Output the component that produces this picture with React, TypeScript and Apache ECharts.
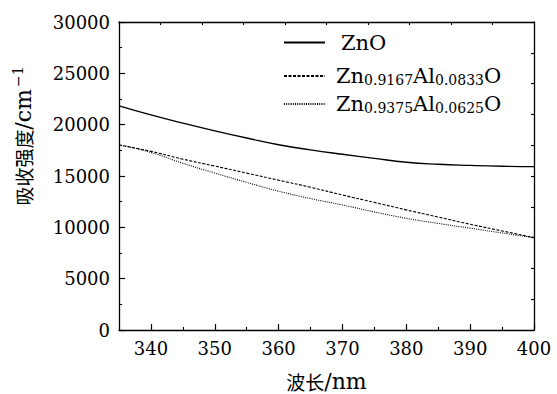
import React, { useEffect, useRef } from "react";
import * as echarts from "echarts";

const wavelength = [335, 340, 345, 350, 355, 360, 365, 370, 375, 380, 385, 390, 395, 400];
const znO = [21830, 20950, 20150, 19400, 18700, 18050, 17550, 17120, 16720, 16340, 16140, 16030, 15950, 15910];
const znAl0833 = [18030, 17400, 16640, 15970, 15280, 14590, 13900, 13150, 12430, 11700, 11000, 10300, 9650, 9000];
const znAl0625 = [18030, 17290, 16240, 15290, 14380, 13520, 12800, 12180, 11500, 10880, 10380, 9920, 9450, 8990];

const seriesNames = ["ZnO", "Zn0.9167Al0.0833O", "Zn0.9375Al0.0625O"];
const xTickLabels = [340, 350, 360, 370, 380, 390, 400];
const xMinorTicks = [345, 355, 365, 375, 385, 395];
const xTopTicks = [341.5, 348, 354.5, 361, 367.5, 374, 380.5, 387, 393.5];

const FONT = "'DejaVu Serif', serif";
const CJK = "'Noto Sans CJK SC', sans-serif";
const FS = 18;

const legendRich = {
  n: { fontFamily: FONT, fontSize: 21, color: "#000", lineHeight: 22, verticalAlign: "middle" as const },
  q: { fontFamily: FONT, fontSize: 21, color: "#000", lineHeight: 22, verticalAlign: "middle" as const, padding: [0, 0, 0, 6] },
  p: { fontFamily: FONT, fontSize: 21, color: "#000", lineHeight: 22, verticalAlign: "middle" as const, padding: [0, 0, 0, 11] },
  s: { fontFamily: FONT, fontSize: 14, color: "#000", lineHeight: 14, verticalAlign: "bottom" as const, padding: [11, 0, 0, 0] },
};

function fmtLegend(name: string): string {
  if (name === "ZnO") return "{p|ZnO}";
  const m = name.match(/^Zn([\d.]+)Al([\d.]+)O$/);
  if (!m) return name;
  return `{q|Zn}{s|${m[1]}}{n|Al}{s|${m[2]}}{n|O}`;
}

export default function App() {
  const ref = useRef<HTMLDivElement>(null);
  useEffect(() => {
    if (!ref.current) return;
    const chart = echarts.init(ref.current, undefined, { renderer: "svg" });
    const legendBase = {
      orient: "vertical" as const,
      left: 283,
      padding: 0,
      itemWidth: 41,
      itemHeight: 14,
      itemStyle: { opacity: 0 },
      formatter: fmtLegend,
      textStyle: { rich: legendRich },
      selectedMode: false,
    };
    chart.setOption({
      animation: false,
      backgroundColor: "#fff",
      grid: { left: 119, right: 23, top: 22, bottom: 64, containLabel: false, outerBoundsMode: "none" },
      legend: [
        { ...legendBase, top: 32, data: [seriesNames[0]] },
        { ...legendBase, top: 62, data: [seriesNames[1]] },
        { ...legendBase, top: 90, data: [seriesNames[2]] },
      ],
      xAxis: [
        {
          type: "value",
          position: "bottom",
          min: 335,
          max: 400,
          name: "{c|波长}{e|/nm}",
          nameLocation: "middle",
          nameGap: 40,
          nameTextStyle: {
            rich: {
              c: { fontFamily: CJK, fontSize: 19, color: "#000", lineHeight: 22 },
              e: { fontFamily: FONT, fontSize: 22, color: "#000", lineHeight: 22 },
            },
          },
          axisLine: { show: true, onZero: false, lineStyle: { color: "#000", width: 1.3 } },
          axisTick: { show: true, inside: true, length: 6, customValues: xTickLabels, lineStyle: { color: "#000", width: 1.2 } },
          axisLabel: { customValues: xTickLabels, fontFamily: FONT, fontSize: FS, color: "#000", margin: 9, formatter: (v: number) => String(v) },
          splitLine: { show: false },
        },
        {
          type: "value",
          position: "bottom",
          min: 335,
          max: 400,
          axisLine: { show: false, onZero: false },
          axisTick: { show: true, inside: true, length: 3, customValues: xMinorTicks, lineStyle: { color: "#000", width: 1.1 } },
          axisLabel: { show: false },
          splitLine: { show: false },
        },
        {
          type: "value",
          position: "top",
          min: 335,
          max: 400,
          axisLine: { show: true, onZero: false, lineStyle: { color: "#000", width: 1.3 } },
          axisTick: { show: true, inside: true, length: 3, customValues: xTopTicks, lineStyle: { color: "#000", width: 1.1 } },
          axisLabel: { show: false },
          splitLine: { show: false },
        },
      ],
      yAxis: [
        {
          type: "value",
          position: "left",
          min: 0,
          max: 30000,
          interval: 5000,
          name: "{c|吸收强度}{e|/cm}{sup|−1}",
          nameLocation: "middle",
          nameGap: 84,
          nameTextStyle: {
            padding: [0, 0, 0, 80],
            rich: {
              c: { fontFamily: CJK, fontSize: 19, color: "#000", lineHeight: 24, verticalAlign: "middle" },
              e: { fontFamily: FONT, fontSize: 22, color: "#000", lineHeight: 24, verticalAlign: "middle" },
              sup: { fontFamily: FONT, fontSize: 14, color: "#000", lineHeight: 14, verticalAlign: "top", padding: [0, 0, 10, 2] },
            },
          },
          axisLine: { show: true, onZero: false, lineStyle: { color: "#000", width: 1.3 } },
          axisTick: { show: true, inside: true, length: 6, lineStyle: { color: "#000", width: 1.2 } },
          minorTick: { show: true, splitNumber: 2, length: 3, lineStyle: { color: "#000", width: 1.1 } },
          axisLabel: { fontFamily: FONT, fontSize: FS, color: "#000", margin: 9, formatter: (v: number) => String(v) },
          splitLine: { show: false },
          minorSplitLine: { show: false },
        },
        {
          type: "value",
          position: "right",
          min: 0,
          max: 30000,
          interval: 3000,
          axisLine: { show: true, onZero: false, lineStyle: { color: "#000", width: 1.3 } },
          axisTick: { show: true, inside: true, length: 3, lineStyle: { color: "#000", width: 1.1 } },
          axisLabel: { show: false },
          splitLine: { show: false },
        },
      ],
      series: [
        {
          name: seriesNames[0],
          type: "line",
          smooth: true,
          symbol: "none",
          data: wavelength.map((w, i) => [w, znO[i]]),
          lineStyle: { color: "#000", width: 1.4, type: "solid" },
          itemStyle: { color: "#000" },
        },
        {
          name: seriesNames[1],
          type: "line",
          smooth: true,
          symbol: "none",
          data: wavelength.map((w, i) => [w, znAl0833[i]]),
          lineStyle: { color: "#000", width: 1.1, type: [3, 1.5] },
          itemStyle: { color: "#000" },
        },
        {
          name: seriesNames[2],
          type: "line",
          smooth: true,
          symbol: "none",
          data: wavelength.map((w, i) => [w, znAl0625[i]]),
          lineStyle: { color: "#000", width: 1.1, type: [1, 1.2] },
          itemStyle: { color: "#000" },
        },
      ],
    });
    return () => chart.dispose();
  }, []);
  return <div ref={ref} style={{ position: "fixed", left: 0, top: 0, width: 557, height: 394 }} />;
}
